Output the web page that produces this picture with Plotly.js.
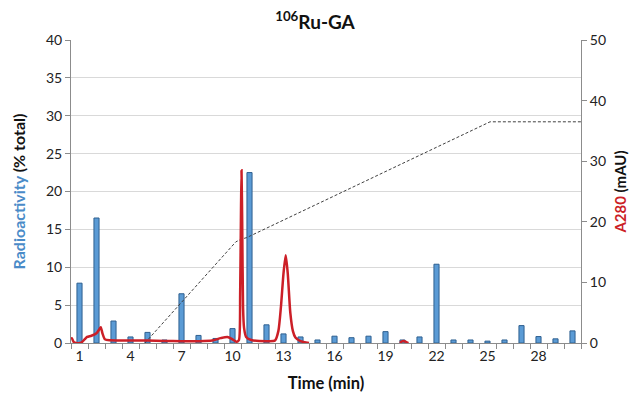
<!DOCTYPE html>
<html>
<head>
<meta charset="utf-8">
<script src="https://cdn.plot.ly/plotly-3.0.1.min.js"></script>
<style>html,body{margin:0;padding:0;background:#fff;}#chart{width:630px;height:396px;}</style>
</head>
<body>
<div id="chart"></div>
<script>
// Radioactivity fractions (% total) per minute
const fractionTime = [1,2,3,4,5,6,7,8,9,10,11,12,13,14,15,16,17,18,19,20,21,22,23,24,25,26,27,28,29,30];
const radioactivity = [7.9,16.5,2.9,0.8,1.4,0.4,6.5,1.0,0.6,1.9,22.5,2.4,1.2,0.8,0.4,0.9,0.7,0.9,1.5,0.4,0.8,10.4,0.4,0.4,0.25,0.4,2.3,0.85,0.55,1.6];

// A280 trace (mAU)
const a280Time = [0.5,0.55,0.65,0.8,1.1,1.3,1.45,1.7,2.0,2.15,2.25,2.35,2.5,2.8,4,5,6,7,8,8.8,9.3,9.7,10.0,10.25,10.38,10.45,10.5,10.53,10.57,10.62,10.68,10.8,11.1,12.0,12.5,12.7,12.85,13.0,13.13,13.25,13.4,13.55,13.7,14.0,14.5,null,19.85,19.95,20.05,20.2,20.35];
const a280Value = [0.7,0.8,0.2,0.0,0.05,0.6,1.0,1.2,1.6,2.2,2.6,1.6,0.6,0.45,0.4,0.4,0.35,0.3,0.3,0.4,0.8,1.0,0.6,0.2,0.5,8,22,28.5,20,6,2.5,1.0,0.5,0.3,0.4,2.0,6,11.5,14.5,11.5,5,2,0.9,0.3,0.0,null,0.0,0.25,0.35,0.2,0.0];

// Gradient profile (dashed)
const gradTime = [4.85,10.0,10.2,10.5,10.84,25.15,30.5];
const gradValue = [0,16.2,16.7,17.1,17.4,36.5,36.5];

const xTickVals = [1,4,7,10,13,16,19,22,25,28];
const xTickText = ['1','4','7','10','13','16','19','22','25','28'];

const font = 'Lato, "Open Sans", sans-serif';
const axisGray = '#8c8c8c';

const traces = [
  {type:'bar', x:fractionTime, y:radioactivity, width:0.3,
   marker:{color:'#5b9bd5', line:{color:'#2f6090', width:1}}, yaxis:'y', showlegend:false, hoverinfo:'x+y'},
  {type:'scatter', mode:'lines', x:gradTime, y:gradValue, yaxis:'y2',
   line:{color:'#404040', width:1, dash:'3px,2px'}, showlegend:false},
  {type:'scatter', mode:'lines', x:a280Time, y:a280Value, yaxis:'y2', connectgaps:false,
   line:{color:'#cc1f27', width:2.5, shape:'spline', smoothing:0.6}, showlegend:false}
];

const layout = {
  width:630, height:396,
  margin:{l:71, r:49, t:40, b:53},
  paper_bgcolor:'#fff', plot_bgcolor:'#fff',
  font:{family:font, size:14, color:'#222'},
  title:{text:'<b><sup>106</sup>Ru-GA</b>', x:0.5, xanchor:'center', y:0.944, yanchor:'middle',
         font:{family:font, size:19, color:'#111'}},
  bargap:0,
  xaxis:{range:[0.5,30.5], tickmode:'array', tickvals:xTickVals, ticktext:xTickText,
         ticks:'', showgrid:false, zeroline:false, showline:true, linecolor:axisGray, linewidth:1,
         minor:{tick0:0.5, dtick:1, ticks:'outside', ticklen:5, tickcolor:axisGray, showgrid:false},
         tickfont:{size:14, color:'#222'},
         title:{text:'<b>Time (min)</b>', font:{size:16.5, color:'#111'}, standoff:14}},
  yaxis:{range:[0,40], tickvals:[0,5,10,15,20,25,30,35,40], ticks:'outside', ticklen:5, tickcolor:axisGray,
         showline:true, linecolor:axisGray, gridcolor:'#d9d9d9', zeroline:false,
         tickfont:{size:14, color:'#222'},
         title:{text:'<b><span style="color:#4a8bc8">Radioactivity</span> (% total)</b>', font:{size:16, color:'#111'}, standoff:16}},
  yaxis2:{range:[0,50], tickvals:[0,10,20,30,40,50], overlaying:'y', side:'right', ticks:'outside', ticklen:5,
          tickcolor:axisGray, showline:true, linecolor:axisGray, showgrid:false, zeroline:false,
          tickfont:{size:14, color:'#222'},
          title:{text:'<b><span style="color:#cc1f27">A280</span> (mAU)</b>', font:{size:15, color:'#111'}, standoff:10}}
};

Plotly.newPlot('chart', traces, layout, {displayModeBar:false, staticPlot:true});
</script>
</body>
</html>
